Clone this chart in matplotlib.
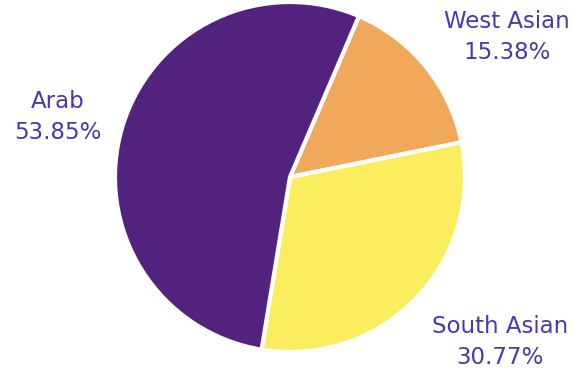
import matplotlib
matplotlib.use("Agg")
import matplotlib.pyplot as plt

# data
groups = ["West Asian", "South Asian", "Arab"]
shares = [15.38, 30.77, 53.85]
colors = ["#f0a85a", "#fbee5e", "#51237f"]

# label anchor points (pixel coords, y from top)
label_xy = [(507, 37), (500, 342), (58, 117)]

fig = plt.figure(figsize=(5.74, 3.75), dpi=100)
ax = fig.add_axes([0, 0, 1, 1])

wedges, _ = ax.pie(shares, colors=colors, startangle=-66.8, counterclock=True,
                   center=(290, 177), radius=175, frame=True,
                   wedgeprops=dict(edgecolor="white", linewidth=3))
ax.set_xlim(0, 574)
ax.set_ylim(375, 0)
ax.set_aspect("equal")
ax.axis("off")

for name, val, (x, y) in zip(groups, shares, label_xy):
    ax.text(x, y, f"{name}\n{val:.2f}%", ha="center", va="center",
            fontsize=16.5, color="#4a38ae", linespacing=1.45)

fig.savefig("out.png", dpi=100)
